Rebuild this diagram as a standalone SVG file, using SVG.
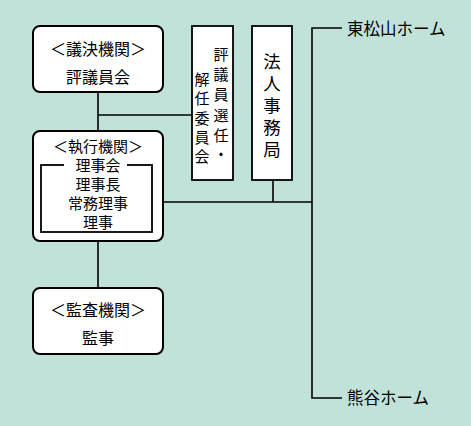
<svg xmlns="http://www.w3.org/2000/svg" width="471" height="426" viewBox="0 0 471 426">
<style>
.bg{fill:#c1e2d9}
.rbox{fill:#fff;stroke:#000;stroke-width:2}
.box{fill:#fff;stroke:#000;stroke-width:1.8}
.ln{fill:none;stroke:#000;stroke-width:1.6}
text{font-family:"Noto Sans CJK JP","Noto Sans CJK SC",sans-serif;fill:#000;dominant-baseline:central;text-anchor:middle}
.t16{font-size:16px}
.t15{font-size:15px}
.vt{font-size:17.5px;writing-mode:vertical-rl;text-anchor:start;letter-spacing:4.5px}
.lbl{font-size:16.5px;text-anchor:start}
</style>
<rect class="bg" x="0" y="0" width="471" height="426"/>
<g id="connectors">
<path class="ln" d="M98 92V131"/>
<path class="ln" d="M98 115H192"/>
<path class="ln" d="M98 241V288"/>
<path class="ln" d="M163 202H312"/>
<path class="ln" d="M273 180V202"/>
<path class="ln" d="M342 28H312V398H342"/>
</g>
<g id="giketsu">
<rect class="rbox" x="33" y="26" width="130" height="66" rx="7"/>
<text class="t16" x="98" y="48">＜議決機関＞</text>
<text class="t16" x="98" y="76">評議員会</text>
</g>
<g id="shikkou">
<rect class="rbox" x="33" y="131" width="130" height="110" rx="7"/>
<text class="t15" x="98" y="145">＜執行機関＞</text>
<rect class="box" x="41" y="165" width="111" height="67" fill="none"/>
<rect x="64" y="157" width="63" height="14" fill="#fff"/>
<text class="t15" x="98" y="164">理事会</text>
<text class="t15" x="98" y="183">理事長</text>
<text class="t15" x="98" y="202">常務理事</text>
<text class="t15" x="98" y="221">理事</text>
</g>
<g id="kansa">
<rect class="rbox" x="33" y="288" width="130" height="66" rx="7"/>
<text class="t16" x="98" y="309">＜監査機関＞</text>
<text class="t16" x="98" y="337">監事</text>
</g>
<g id="iinkai">
<rect class="box" x="192" y="26" width="41" height="154"/>
<text class="t15"><tspan x="221" y="53">評</tspan><tspan x="221" y="73">議</tspan><tspan x="221" y="93">員</tspan><tspan x="221" y="114">選</tspan><tspan x="221" y="134">任</tspan><tspan x="221" y="153">・</tspan></text>
<text class="t15"><tspan x="202" y="78">解</tspan><tspan x="202" y="97">任</tspan><tspan x="202" y="117">委</tspan><tspan x="202" y="136">員</tspan><tspan x="202" y="155">会</tspan></text>
</g>
<g id="jimukyoku">
<rect class="box" x="252" y="26" width="40" height="154"/>
<text class="vt" x="272" y="53">法人事務局</text>
</g>
<g id="higashimatsuyama">
<text class="lbl" x="347" y="28">東松山ホーム</text>
</g>
<g id="kumagaya">
<text class="lbl" x="347" y="397">熊谷ホーム</text>
</g>
</svg>
